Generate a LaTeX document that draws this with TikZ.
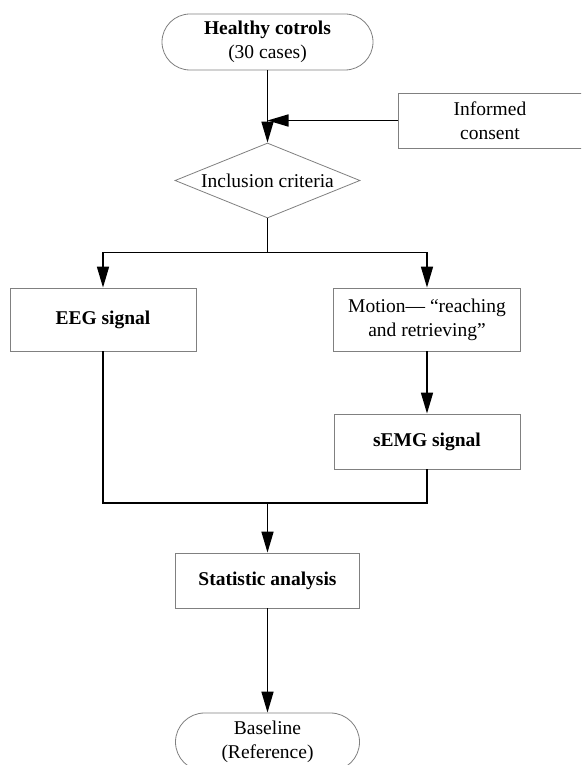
\documentclass[tikz,border=0pt]{standalone}
\usepackage{fontspec}
\setmainfont{Liberation Serif}
\usetikzlibrary{shapes.geometric,arrows.meta}
\begin{document}
\begin{tikzpicture}[x=1pt,y=-1pt,
  every node/.style={font=\fontsize{19.5}{24}\selectfont, align=center, inner sep=0pt},
  boxnode/.style={draw=black!50, line width=0.8pt, rectangle},
  termnode/.style={draw=black!50, line width=0.8pt, rectangle},
  decnode/.style={draw=black!50, line width=0.8pt, diamond, aspect=2.47},
  conn/.style={draw=black, line width=1.6pt},
  arr/.style={conn, -{Triangle[length=21pt,width=12pt]}}
]
\clip (0,0) rectangle (581,765);
\fill[white] (0,0) rectangle (581,765);

\node[termnode, rounded corners=28pt, minimum width=211pt, minimum height=56pt] (hc) at (267.5,42) {\textbf{Healthy cotrols}\\(30 cases)};
\node[boxnode, minimum width=184pt, minimum height=55pt] (ic) at (490,120.5) {Informed\\consent};
\node[decnode, minimum width=185pt, minimum height=75pt] (inc) at (267.5,180.5) {Inclusion criteria};
\node[boxnode, minimum width=186pt, minimum height=63pt] (eeg) at (103,319.5) {\textbf{EEG signal}};
\node[boxnode, minimum width=187pt, minimum height=63pt] (mot) at (427,319.5) {Motion— “reaching\\and retrieving”};
\node[boxnode, minimum width=186pt, minimum height=55pt] (semg) at (427,441.5) {\textbf{sEMG signal}};
\node[boxnode, minimum width=184pt, minimum height=55pt] (stat) at (267.5,580.5) {\textbf{Statistic analysis}};
\node[termnode, rounded corners=29pt, minimum width=184pt, minimum height=58pt] (base) at (267.5,742) {Baseline\\(Reference)};

\coordinate (split) at (267.5,252.5);
\coordinate (merge) at (267.5,503);

\draw[arr] (hc.south) -- (inc.north);
\draw[arr] (ic.west) -- (ic.west -| hc.south);
\draw[conn] (inc.south) -- (split);
\draw[arr] (split) -| (eeg.north);
\draw[arr] (split) -| (mot.north);
\draw[arr] (mot.south) -- (semg.north);
\draw[conn] (eeg.south) |- (merge) -| (semg.south);
\draw[arr] (merge) -- (stat.north);
\draw[arr] (stat.south) -- (base.north);
\end{tikzpicture}
\end{document}
